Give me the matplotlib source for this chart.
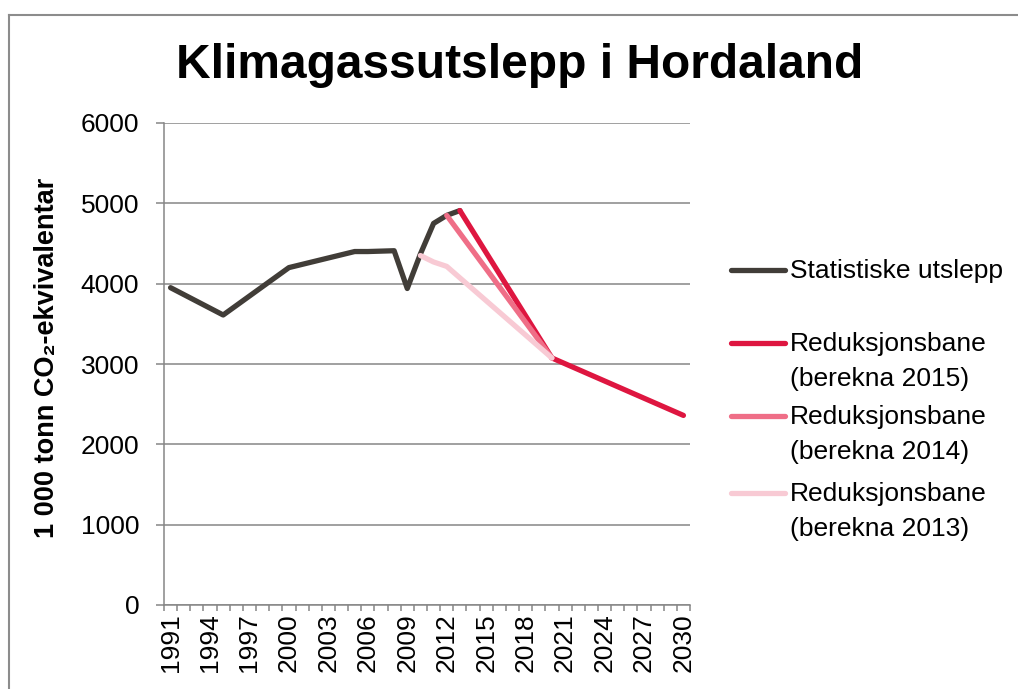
import numpy as np
import matplotlib
matplotlib.use('Agg')
import matplotlib.pyplot as plt
from matplotlib.lines import Line2D

plt.rcParams['font.family'] = ['Liberation Sans', 'DejaVu Sans']

# ---- data ----
years = list(range(1991, 2031))
stat_years = [1991, 1995, 2000, 2005, 2006, 2007, 2008, 2009, 2010, 2011, 2012, 2013]
stat_vals = [3950, 3610, 4200, 4400, 4400, 4405, 4410, 3940, 4370, 4750, 4850, 4910]
red15_years = [2013, 2020, 2030]
red15_vals = [4910, 3075, 2360]
red14_years = [2012, 2020]
red14_vals = [4850, 3075]
red13_years = [2010, 2011, 2012, 2020]
red13_vals = [4350, 4270, 4215, 3075]

title = "Klimagassutslepp i Hordaland"
ylabel = "1 000 tonn CO\u2082-ekvivalentar"
labels = ["Statistiske utslepp",
          "Reduksjonsbane\n(berekna 2015)",
          "Reduksjonsbane\n(berekna 2014)",
          "Reduksjonsbane\n(berekna 2013)"]
colors = ["#413D38", "#DE1640", "#EF6E87", "#F8CAD4"]

W, H = 1018, 689
def fx(x): return x / W
def fy(y): return 1 - y / H

fig = plt.figure(figsize=(W / 100, H / 100), dpi=100)
ax = fig.add_axes([fx(164), fy(605), fx(690) - fx(164), fy(123) - fy(605)])

def pos(yrs):
    return [years.index(y) for y in yrs]

lw = 3.8
series = [(stat_years, stat_vals), (red15_years, red15_vals),
          (red14_years, red14_vals), (red13_years, red13_vals)]
for (yrs, vals), c, lab in zip(series, colors, labels):
    ax.plot(pos(yrs), vals, color=c, lw=lw, solid_capstyle='round',
            solid_joinstyle='round', label=lab, zorder=3)

gc = "#868686"
ax.set_xlim(-0.5, len(years) - 0.5)
ax.set_ylim(0, 6000)
ax.set_yticks(np.arange(0, 6001, 1000))
ax.yaxis.grid(True, color=gc, lw=1.1)
ax.set_axisbelow(True)
for s in ['top', 'right']:
    ax.spines[s].set_visible(False)
for s in ['left', 'bottom']:
    ax.spines[s].set_color(gc)
    ax.spines[s].set_linewidth(1.1)

ax.set_xticks(np.arange(-0.5, len(years), 1))
ax.set_xticklabels([])
ax.set_xticks(np.arange(0, len(years), 3), minor=True)
ax.set_xticklabels([str(years[i]) for i in range(0, len(years), 3)], minor=True,
                   rotation=90, fontsize=19)
ax.tick_params(axis='x', which='major', direction='out', length=4.3, color=gc, width=1.1)
ax.tick_params(axis='x', which='minor', length=0, pad=6)
ax.tick_params(axis='y', direction='out', length=5.8, color=gc, width=1.1,
               labelsize=19, pad=12)

fig.text(fx(47), fy(358), ylabel, rotation=90, fontsize=19.5, fontweight='bold',
         ha='center', va='center')
fig.text(fx(520), fy(65), title, fontsize=34.5, fontweight='bold',
         ha='center', va='center')

# legend (manual, Excel-like)
rows = [270, 343, 416, 493]
for yy, c, lab in zip(rows, colors, labels):
    fig.add_artist(Line2D([fx(731), fx(785)], [fy(yy), fy(yy)], color=c, lw=lw,
                          solid_capstyle='round', transform=fig.transFigure))
    fig.text(fx(790), fy(yy - 11), lab, fontsize=19, ha='left', va='top',
             linespacing=1.6)

# outer frame (top and left edges visible)
fig.add_artist(Line2D([fx(9), 1.0], [fy(15), fy(15)], color="#8C8C8C", lw=1.5,
                      transform=fig.transFigure))
fig.add_artist(Line2D([fx(9), fx(9)], [0.0, fy(15)], color="#8C8C8C", lw=1.5,
                      transform=fig.transFigure))

fig.savefig("out.png", dpi=100)
